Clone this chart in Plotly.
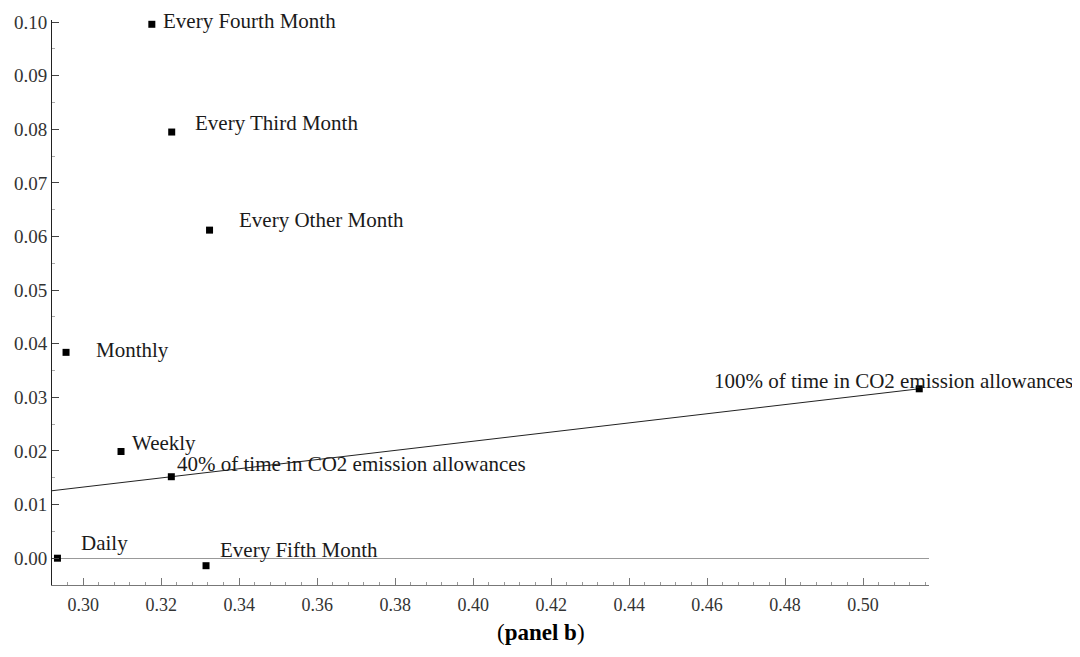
import plotly.graph_objects as go

# ---- data ----
labels = ["Every Fourth Month", "Every Third Month", "Every Other Month", "Monthly",
          "Weekly", "40% of time in CO2 emission allowances", "Daily",
          "Every Fifth Month", "100% of time in CO2 emission allowances"]
x_vals = [0.3176, 0.3227, 0.3324, 0.2956, 0.3097, 0.3226, 0.2934, 0.3315, 0.5144]
y_vals = [0.0996, 0.0795, 0.0612, 0.0384, 0.0199, 0.0152, 0.0000, -0.0014, 0.0316]

x_ticks = [0.30, 0.32, 0.34, 0.36, 0.38, 0.40, 0.42, 0.44, 0.46, 0.48, 0.50]
y_ticks = [0.00, 0.01, 0.02, 0.03, 0.04, 0.05, 0.06, 0.07, 0.08, 0.09, 0.10]

# ---- layout settings ----
x_range = [0.292, 0.5169]
y_range = [-0.0050, 0.1004]
# label offsets in pixels (xshift, yshift, anchor)
label_offsets = [(9, 3, "left"), (21, 9, "left"), (27, 10, "left"), (28, 2, "left"),
                 (9, 9, "left"), (4, 13, "left"), (22, 15, "left"), (12, 16, "left"),
                 (156, 8, "right")]

SERIF = "Liberation Serif, Times New Roman, serif"

fig = go.Figure()

# line through the two "% of time in CO2" points, extended to the left axis
i40 = labels.index("40% of time in CO2 emission allowances")
i100 = labels.index("100% of time in CO2 emission allowances")
slope = (y_vals[i100] - y_vals[i40]) / (x_vals[i100] - x_vals[i40])
line_x = [x_range[0], x_vals[i100]]
line_y = [y_vals[i40] + slope * (lx - x_vals[i40]) for lx in line_x]
fig.add_trace(go.Scatter(x=line_x, y=line_y, mode="lines",
                         line=dict(color="#222222", width=1), hoverinfo="skip",
                         showlegend=False, cliponaxis=False))

fig.add_trace(go.Scatter(x=x_vals, y=y_vals, mode="markers",
                         marker=dict(symbol="square", size=7, color="black"),
                         showlegend=False, text=labels, cliponaxis=False))

for lab, xv, yv, (dx, dy, anc) in zip(labels, x_vals, y_vals, label_offsets):
    fig.add_annotation(x=xv, y=yv, xref="x", yref="y", text=lab, showarrow=False,
                       xanchor=anc, yanchor="middle", xshift=dx, yshift=dy,
                       font=dict(family=SERIF, size=21, color="#1a1a1a"))

fig.add_annotation(x=0.5, y=0, xref="paper", yref="paper", yshift=-47, xshift=50,
                   text="(<b>panel b</b>)", showarrow=False, xanchor="center",
                   yanchor="middle",
                   font=dict(family="Liberation Serif, serif", size=23, color="black"))

# the page body adds an 8px margin, so the figure is sized/offset to compensate
fig.update_layout(
    width=1072, height=641,
    margin=dict(l=44, r=151, t=12, b=64, autoexpand=False),
    paper_bgcolor="white", plot_bgcolor="white",
    xaxis=dict(range=x_range, tickvals=x_ticks, ticktext=[f"{v:.2f}" for v in x_ticks],
               automargin=False, ticklabelstandoff=3,
               showgrid=False, zeroline=False, showline=True, linecolor="#777777",
               linewidth=1, ticks="inside", ticklen=7, tickcolor="#777777",
               minor=dict(dtick=0.004, tick0=0, ticks="inside", ticklen=3,
                          tickcolor="#999999", showgrid=False),
               tickfont=dict(family=SERIF, size=18, color="#333333")),
    yaxis=dict(range=y_range, tickvals=y_ticks, ticktext=[f"{v:.2f}" for v in y_ticks],
               automargin=False,
               showgrid=False, zeroline=True, zerolinecolor="#999999", zerolinewidth=1,
               showline=True, linecolor="#222222", linewidth=1,
               ticks="inside", ticklen=7, tickcolor="#444444",
               minor=dict(dtick=0.005, tick0=0, ticks="inside", ticklen=3,
                          tickcolor="#aaaaaa", showgrid=False),
               tickfont=dict(family=SERIF, size=19, color="#333333")),
)

fig.write_html("out.html")
